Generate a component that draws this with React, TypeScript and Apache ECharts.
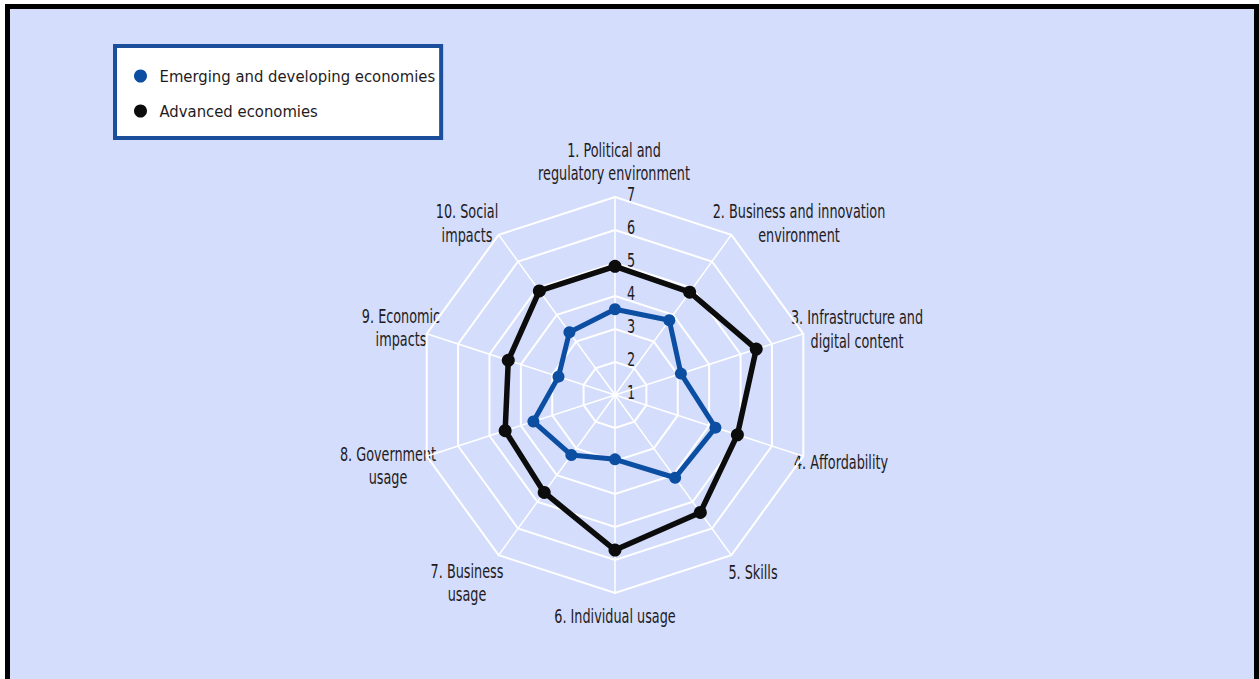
import React, { useEffect, useRef } from 'react';
import * as echarts from 'echarts';

// ---- data ----
const CATEGORIES = [
  '1. Political and\nregulatory environment',
  '2. Business and innovation\nenvironment',
  '3. Infrastructure and\ndigital content',
  '4. Affordability',
  '5. Skills',
  '6. Individual usage',
  '7. Business\nusage',
  '8. Government\nusage',
  '9. Economic\nimpacts',
  '10. Social\nimpacts',
];
const EMERGING = [3.6, 3.8, 3.1, 4.2, 4.1, 2.95, 3.25, 3.6, 2.8, 3.35];
const ADVANCED = [4.9, 4.85, 5.5, 4.9, 5.4, 5.7, 4.65, 4.5, 4.4, 4.9];
const TICKS = ['1', '2', '3', '4', '5', '6', '7'];
const SERIES_NAMES = ['Emerging and developing economies', 'Advanced economies'];
const AXIS_MIN = 1;
const AXIS_MAX = 7;

// ---- layout / style ----
const CX = 615;
const CY = 395;
const R = 198;
const FONT = "'DejaVu Sans Condensed', 'Liberation Sans', sans-serif";
const TEXT_COLOR = '#1f1b1c';
const BLUE = '#0b4ea2';
const BLACK = '#0c0c0c';
const LABEL_SIZE = 19;
const LABEL_SCALE_X = 0.75;
// label block centres (page pixels)
const LABEL_POS: [number, number][] = [
  [614, 161.5],
  [799, 223],
  [857, 329],
  [841, 462],
  [753, 572],
  [615, 616],
  [467, 582.5],
  [388, 465.5],
  [401, 327.5],
  [467, 223],
];

export default function App() {
  const ref = useRef<HTMLDivElement>(null);
  useEffect(() => {
    document.body.style.margin = '0';
    const chart = echarts.init(ref.current!, null, { renderer: 'svg' });
    const n = CATEGORIES.length;
    // ECharts radar runs counter-clockwise; reorder so the reference's clockwise order appears
    const order = [0, ...Array.from({ length: n - 1 }, (_, i) => n - 1 - i)];
    const indicator = order.map((i) => ({ name: CATEGORIES[i], min: AXIS_MIN, max: AXIS_MAX }));
    const em = order.map((i) => EMERGING[i]);
    const ad = order.map((i) => ADVANCED[i]);

    const graphics: any[] = [];
    CATEGORIES.forEach((c, i) => {
      graphics.push({
        type: 'text',
        x: LABEL_POS[i][0],
        y: LABEL_POS[i][1],
        scaleX: LABEL_SCALE_X,
        style: {
          text: c,
          align: 'center',
          verticalAlign: 'middle',
          fontFamily: FONT,
          fontSize: LABEL_SIZE,
          lineHeight: 23.5,
          fill: TEXT_COLOR,
        },
      });
    });
    TICKS.forEach((t) => {
      const v = Number(t);
      graphics.push({
        type: 'text',
        x: CX + 16,
        y: CY - ((v - AXIS_MIN) / (AXIS_MAX - AXIS_MIN)) * R - 3,
        scaleX: LABEL_SCALE_X,
        style: {
          text: t,
          align: 'center',
          verticalAlign: 'middle',
          fontFamily: FONT,
          fontSize: LABEL_SIZE,
          fill: TEXT_COLOR,
        },
      });
    });

    chart.setOption({
      animation: false,
      legend: {
        left: 115,
        top: 46,
        orient: 'vertical',
        icon: 'circle',
        itemWidth: 28,
        itemHeight: 13,
        itemGap: 15,
        padding: [20, 6, 17, 19],
        backgroundColor: '#ffffff',
        borderColor: '#1b4f9c',
        borderWidth: 4,
        borderRadius: 0,
        textStyle: { fontFamily: FONT, fontSize: 16.5, color: TEXT_COLOR, lineHeight: 20 },
        data: SERIES_NAMES,
      },
      radar: {
        center: [CX, CY],
        radius: R,
        startAngle: 90,
        shape: 'polygon',
        splitNumber: AXIS_MAX - AXIS_MIN,
        indicator,
        axisName: { show: false },
        axisLine: { lineStyle: { color: '#ffffff', width: 1.5 } },
        splitLine: { lineStyle: { color: '#ffffff', width: 2 } },
        splitArea: { show: false },
        axisTick: { show: false },
        axisLabel: { show: false },
      },
      graphic: graphics,
      series: [
        {
          type: 'radar',
          symbol: 'circle',
          data: [
            {
              name: SERIES_NAMES[0],
              value: em,
              symbolSize: 12,
              itemStyle: { color: BLUE },
              lineStyle: { color: BLUE, width: 5 },
            },
          ],
          z: 3,
        },
        {
          type: 'radar',
          symbol: 'circle',
          data: [
            {
              name: SERIES_NAMES[1],
              value: ad,
              symbolSize: 13,
              itemStyle: { color: BLACK },
              lineStyle: { color: BLACK, width: 5.5 },
            },
          ],
          z: 2,
        },
      ],
    });
    return () => chart.dispose();
  }, []);

  return (
    <div style={{ position: 'fixed', left: 0, top: 0, width: 1259, height: 679, background: '#ffffff', overflow: 'hidden' }}>
      <div
        style={{
          position: 'absolute',
          left: 5,
          top: 4,
          width: 1254,
          height: 700,
          boxSizing: 'border-box',
          borderTop: '5px solid #000',
          borderLeft: '5px solid #000',
          borderRight: '5px solid #000',
          background: '#d4ddfc',
        }}
      />
      <div ref={ref} style={{ position: 'absolute', left: 0, top: 0, width: 1259, height: 679 }} />
    </div>
  );
}
